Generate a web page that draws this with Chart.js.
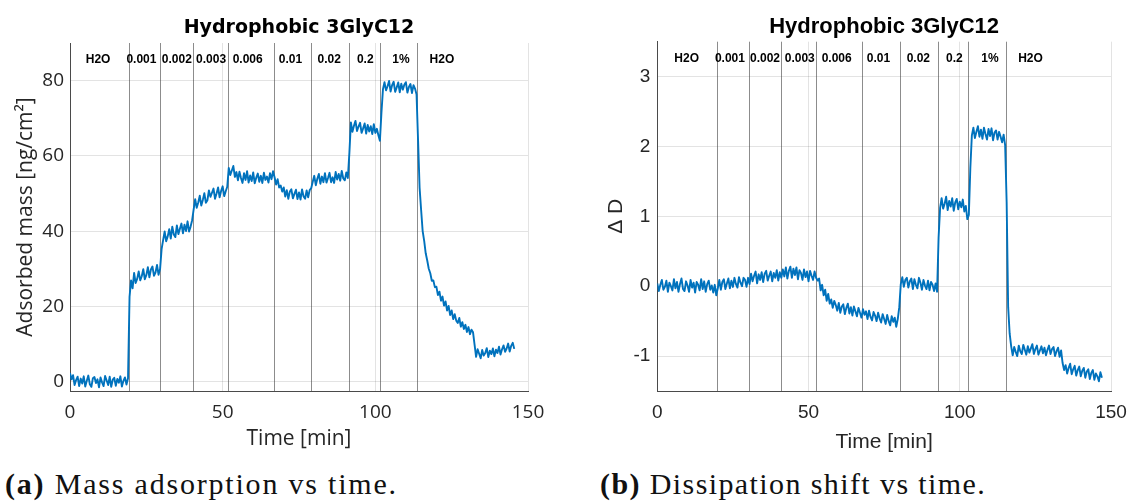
<!DOCTYPE html>
<html><head><meta charset="utf-8">
<script src="https://cdn.jsdelivr.net/npm/chart.js@4.4.1/dist/chart.umd.min.js"></script>
<style>
html,body{margin:0;padding:0;background:#fff;width:1136px;height:501px;overflow:hidden;position:relative}
#wa{position:absolute;left:0;top:0;width:560px;height:460px}
#wb{position:absolute;left:590px;top:0;width:560px;height:460px}
.cap{position:absolute;top:467px;font-family:"Liberation Serif","Times New Roman",serif;font-size:30px;color:#111;white-space:nowrap;letter-spacing:1.4px;line-height:34px}
.cap b{font-weight:bold}
</style></head>
<body>
<div id="wa"><canvas id="ca"></canvas></div>
<div id="wb"><canvas id="cb"></canvas></div>
<div class="cap" style="left:5px;letter-spacing:1.8px"><b>(a)</b> Mass adsorption vs time.</div>
<div class="cap" style="left:600px"><b>(b)</b> Dissipation shift vs time.</div>
<script>
// ---------- data (sampled every 0.5 min starting at 0 min) ----------
const sampleStartMin = 0;
const sampleStepMin = 0.5;

const phaseNames = ['H2O','0.001','0.002','0.003','0.006','0.01','0.02','0.2','1%','H2O'];

// left chart (mass)
const phaseBoundsA = [19.4, 29.6, 40.3, 51.6, 66.8, 78.9, 91.4, 101.4, 113.7];
const phaseLabelTimesA = [9.2, 23.4, 35.0, 46.2, 58.2, 72.2, 84.9, 96.7, 108.4, 121.8];
const xTicksA = [0, 50, 100, 150];
const yTicksA = [0, 20, 40, 60, 80];
const massNgCm2 = [
 2.3, 0.6, 1.7, -0.9, 0.4, 1.3, -1.2, 0.8, -0.5, 1.4,
 -1.3, 0.2, 1.6, -0.7, -1.4, 0.9, 1.2, -0.4, 0.6, -1.5,
 1.1, -0.2, -1.2, 1.5, 0.3, -0.9, 1.3, -1.4, 0.5, 1.0,
 -1.1, 0.7, -0.3, 1.4, -1.3, 0.2, 1.1, -0.8, 0.9, 22.5,
 26.9, 24.8, 28.9, 26.2, 27.3, 29.3, 26.9, 28.0, 29.9, 27.2,
 28.3, 30.4, 27.7, 29.8, 30.6, 28.1, 29.0, 31.0, 28.4, 29.9,
 35.2, 37.6, 39.9, 37.3, 38.6, 40.5, 38.0, 41.2, 39.1, 38.4,
 41.5, 39.2, 40.6, 42.0, 39.4, 41.7, 40.0, 42.6, 39.9, 41.2,
 42.9, 45.8, 48.5, 46.2, 47.6, 49.4, 46.8, 48.3, 50.1, 47.5,
 48.2, 50.8, 49.1, 50.2, 51.3, 48.6, 50.0, 51.6, 49.0, 50.7,
 51.9, 49.3, 50.6, 51.8, 56.8, 54.9, 56.1, 57.3, 54.4, 55.7,
 53.5, 55.8, 54.1, 52.8, 55.4, 53.6, 55.9, 52.9, 54.8, 53.3,
 55.6, 52.7, 54.2, 55.3, 53.1, 54.7, 52.8, 55.5, 53.6, 54.5,
 52.9, 55.4, 53.8, 55.9, 54.3, 52.4, 53.8, 51.6, 52.1, 50.5,
 51.6, 49.2, 50.9, 48.6, 50.5, 51.1, 48.7, 49.9, 51.0, 48.5,
 50.3, 48.4, 51.1, 49.2, 48.6, 50.8, 49.0, 50.9, 51.4, 53.1,
 54.7, 52.2, 53.9, 55.2, 52.6, 54.5, 53.0, 55.4, 52.9, 54.1,
 55.5, 53.0, 54.3, 52.8, 55.7, 53.7, 55.2, 53.4, 56.0, 54.0,
 53.5, 55.6, 54.1, 60.8, 68.9, 66.4, 68.0, 69.3, 66.6, 67.8,
 68.8, 66.1, 67.3, 68.6, 65.9, 68.2, 66.5, 67.9, 65.8, 68.4,
 66.1, 67.2, 65.5, 64.0, 71.5, 77.7, 79.6, 77.4, 78.5, 79.9,
 77.1, 78.8, 79.7, 77.0, 78.2, 79.5, 76.9, 79.2, 77.6, 78.9,
 79.6, 76.8, 78.3, 79.1, 76.7, 78.8, 77.9, 76.3, 64.0, 51.5,
 45.6, 40.0, 37.4, 34.1, 32.2, 30.0, 28.8, 26.8, 26.9, 25.1,
 25.2, 23.0, 23.9, 21.5, 22.6, 20.2, 21.3, 18.9, 20.1, 17.7,
 18.9, 16.6, 17.9, 16.2, 15.6, 16.9, 14.6, 15.8, 14.0, 15.1,
 13.2, 14.5, 12.6, 13.8, 13.1, 9.8, 6.6, 8.6, 7.4, 6.2,
 8.4, 6.9, 7.6, 8.9, 6.5, 8.2, 7.3, 8.8, 6.7, 8.5,
 7.6, 9.3, 7.2, 8.6, 9.6, 7.9, 8.8, 10.1, 8.0, 9.5,
 10.3, 8.7
];

// right chart (dissipation)
const phaseBoundsB = [19.8, 30.2, 41.0, 52.5, 67.8, 80.1, 92.7, 102.8, 115.3];
const phaseLabelTimesB = [9.7, 24.0, 35.6, 47.1, 59.3, 73.1, 86.3, 98.2, 110.0, 123.4];
const xTicksB = [0, 50, 100, 150];
const yTicksB = [-1, 0, 1, 2, 3];
const deltaD = [
 0.04, -0.07, 0.02, 0.09, -0.05, -0.01, 0.08, -0.08, 0.05, 0.00,
 -0.06, 0.10, -0.03, 0.06, -0.08, 0.03, 0.11, -0.04, -0.07, 0.07,
 0.01, -0.08, 0.09, -0.02, 0.05, -0.09, 0.06, 0.02, -0.06, 0.10,
 -0.04, 0.07, -0.08, 0.03, 0.08, -0.05, 0.01, -0.09, 0.02, -0.13,
 -0.03, 0.09, -0.05, 0.06, 0.10, -0.04, 0.04, 0.11, -0.03, 0.08,
 -0.01, 0.12, 0.03, -0.02, 0.13, 0.05, 0.00, 0.12, 0.09, -0.01,
 0.12, 0.03, 0.18, 0.07, 0.15, 0.21, 0.04, 0.17, 0.09, 0.20,
 0.06, 0.18, 0.22, 0.08, 0.15, 0.21, 0.07, 0.19, 0.12, 0.23,
 0.08, 0.20, 0.12, 0.24, 0.14, 0.27, 0.11, 0.22, 0.28, 0.12,
 0.25, 0.16, 0.27, 0.10, 0.23, 0.19, 0.09, 0.24, 0.13, 0.21,
 0.07, 0.22, 0.15, 0.09, 0.21, 0.12, 0.08, 0.11, -0.06, 0.02,
 -0.13, -0.05, -0.21, -0.11, -0.25, -0.19, -0.31, -0.21, -0.27, -0.35,
 -0.24, -0.38, -0.29, -0.26, -0.40, -0.31, -0.25, -0.39, -0.30, -0.42,
 -0.29, -0.36, -0.43, -0.31, -0.38, -0.45, -0.33, -0.41, -0.36, -0.47,
 -0.35, -0.44, -0.49, -0.37, -0.42, -0.50, -0.38, -0.46, -0.52, -0.40,
 -0.47, -0.54, -0.41, -0.50, -0.56, -0.43, -0.51, -0.45, -0.58, -0.47,
 -0.30, 0.03, 0.13, -0.01, 0.09, 0.12, -0.02, 0.07, 0.11, -0.04,
 0.10, 0.02, -0.03, 0.12, 0.05, -0.05, 0.09, 0.01, -0.04, 0.08,
 -0.06, 0.06, 0.02, -0.07, 0.04, -0.08, 0.70, 1.12, 1.26, 1.11,
 1.18, 1.28, 1.09, 1.22, 1.14, 1.26, 1.08, 1.20, 1.25, 1.10,
 1.21, 1.13, 1.24, 1.07, 1.15, 0.96, 1.02, 1.70, 2.16, 2.27,
 2.12, 2.21, 2.29, 2.14, 2.24, 2.11, 2.27, 2.18, 2.10, 2.25,
 2.15, 2.26, 2.09, 2.20, 2.23, 2.10, 2.21, 2.14, 2.06, 2.17,
 2.02, 1.20, -0.30, -0.68, -0.86, -0.99, -0.87, -0.94, -1.00, -0.85,
 -0.93, -0.97, -0.84, -0.91, -0.98, -0.86, -0.95, -0.89, -0.83, -0.97,
 -0.90, -0.85, -0.98, -0.92, -0.86, -0.96, -0.88, -0.99, -0.91, -0.85,
 -0.97, -0.90, -0.87, -1.00, -0.93, -0.88, -1.01, -0.92, -1.10, -1.20,
 -1.13, -1.25, -1.17, -1.11, -1.26, -1.19, -1.14, -1.28, -1.20, -1.15,
 -1.29, -1.21, -1.17, -1.31, -1.22, -1.19, -1.33, -1.24, -1.20, -1.34,
 -1.25, -1.29, -1.36, -1.23, -1.31
];

// ---------- drawing ----------
const toXY = arr => arr.map((v, i) => ({x: sampleStartMin + i * sampleStepMin, y: v}));
const GRID = 'rgba(38,38,38,0.13)';
const AXIS = '#4a4a4a';
const TICKC = '#262626';

const phasePlugin = {
  id: 'phases',
  beforeDatasetsDraw(chart, args, o) {
    const {ctx, chartArea: a, scales: {x}} = chart;
    ctx.save();
    ctx.strokeStyle = 'rgba(70,70,70,0.62)';
    ctx.lineWidth = 1;
    o.bounds.forEach(t => {
      const px = Math.round(x.getPixelForValue(t)) + 0.5;
      ctx.beginPath(); ctx.moveTo(px, a.top); ctx.lineTo(px, a.bottom); ctx.stroke();
    });
    ctx.restore();
  },
  afterDatasetsDraw(chart, args, o) {
    const {ctx, scales: {x, y}} = chart;
    ctx.save();
    ctx.font = o.font;
    ctx.fillStyle = '#000';
    ctx.textAlign = 'center';
    ctx.textBaseline = 'middle';
    o.names.forEach((n, i) => ctx.fillText(n, x.getPixelForValue(o.times[i]), y.getPixelForValue(o.level)));
    ctx.restore();
  }
};

function makeChart(id, cfg) {
  return new Chart(document.getElementById(id), {
    type: 'line',
    data: {datasets: [{data: toXY(cfg.values), borderColor: '#0072BD', borderWidth: 1.9, borderJoinStyle: 'round', pointRadius: 0, tension: 0, fill: false}]},
    plugins: [phasePlugin],
    options: {
      responsive: true, maintainAspectRatio: false, animation: false,
      layout: {padding: {left: 0, right: cfg.padRight, top: 0, bottom: 0}},
      plugins: {
        legend: {display: false}, tooltip: {enabled: false},
        title: {display: true, text: 'Hydrophobic 3GlyC12', fullSize: false, color: '#000',
                font: cfg.titleFont, padding: cfg.titlePad},
        phases: {bounds: cfg.bounds, names: phaseNames, times: cfg.labelTimes, level: cfg.labelLevel, font: cfg.phaseFont}
      },
      scales: {
        x: {type: 'linear', min: 0, max: 150,
            afterBuildTicks: s => { s.ticks = cfg.xTicks.map(v => ({value: v})); },
            afterFit: s => { s.height = cfg.xAxisH; },
            grid: {color: GRID, drawTicks: false},
            border: {color: AXIS, width: 1},
            ticks: {color: TICKC, font: cfg.tickFont, padding: cfg.xTickPad, maxRotation: 0},
            title: {display: true, text: 'Time [min]', color: TICKC, font: cfg.axisFont, padding: {top: 0, bottom: cfg.xTitlePad}}},
        y: {type: 'linear', min: cfg.yMin, max: cfg.yMax,
            afterBuildTicks: s => { s.ticks = cfg.yTicks.map(v => ({value: v})); },
            afterFit: s => { s.width = cfg.yAxisW; },
            grid: {color: GRID, drawTicks: false},
            border: {color: AXIS, width: 1},
            ticks: {color: TICKC, font: cfg.tickFont, padding: cfg.yTickPad},
            title: {display: true, text: cfg.yTitle, color: TICKC, font: cfg.axisFont, padding: {top: cfg.yTitlePad, bottom: 0}}}
      }
    }
  });
}

makeChart('ca', {
  values: massNgCm2, bounds: phaseBoundsA, labelTimes: phaseLabelTimesA, labelLevel: 85.5,
  xTicks: xTicksA, yTicks: yTicksA, yMin: -2.5, yMax: 90,
  yTitle: 'Adsorbed mass [ng/cm²]',
  titleFont: {family: 'DejaVu Sans', size: 19, weight: 'bold'}, titlePad: {top: 17, bottom: 3.2},
  tickFont: {family: 'Open Sans', size: 19}, axisFont: {family: 'Open Sans', size: 21},
  phaseFont: 'bold 12px "Liberation Sans"',
  padRight: 32, xAxisH: 69, yAxisW: 70, xTickPad: 10, xTitlePad: 8, yTickPad: 6, yTitlePad: 13
});

makeChart('cb', {
  values: deltaD, bounds: phaseBoundsB, labelTimes: phaseLabelTimesB, labelLevel: 3.26,
  xTicks: xTicksB, yTicks: yTicksB, yMin: -1.5, yMax: 3.5,
  yTitle: 'Δ D',
  titleFont: {family: 'Liberation Sans', size: 22, weight: 'bold'}, titlePad: {top: 14, bottom: 1.3},
  tickFont: {family: 'Liberation Sans', size: 19}, axisFont: {family: 'Liberation Sans', size: 21},
  phaseFont: 'bold 12px "Liberation Sans"',
  padRight: 39, xAxisH: 69, yAxisW: 67.3, xTickPad: 10, xTitlePad: 5, yTickPad: 7, yTitlePad: 14
});
</script>
</body></html>
